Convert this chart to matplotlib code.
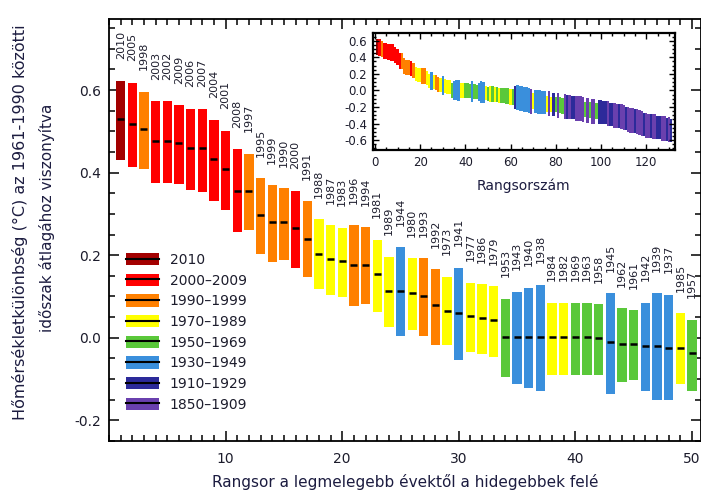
import matplotlib
matplotlib.use('Agg')
import matplotlib.pyplot as plt
from matplotlib.patches import Patch
from matplotlib.lines import Line2D
from matplotlib.legend_handler import HandlerTuple
from matplotlib.ticker import MultipleLocator, FixedLocator, FormatStrFormatter

plt.rcParams['font.family'] = ['DejaVu Sans']
plt.rcParams['axes.unicode_minus'] = False

# ---------------- data ----------------
periods = ['2010', '2000–2009', '1990–1999', '1970–1989',
           '1950–1969', '1930–1949', '1910–1929', '1850–1909']
period_colors = ['#a30000', '#ff0000', '#ff8000', '#ffff00',
                 '#5ac83a', '#3a8fdc', '#2c2a9a', '#6a40ae']

# 50 warmest years (main chart)
years_top50 = [2010, 2005, 1998, 2003, 2002, 2009, 2006, 2007, 2004, 2001,
               2008, 1997, 1995, 1999, 1990, 2000, 1991, 1988, 1987, 1983,
               1996, 1994, 1981, 1989, 1944, 1980, 1993, 1992, 1973, 1941,
               1977, 1986, 1979, 1953, 1943, 1940, 1938, 1984, 1982, 1969,
               1963, 1958, 1945, 1962, 1961, 1942, 1939, 1937, 1985, 1957]
center_top50 = [0.531, 0.517, 0.505, 0.476, 0.476, 0.472, 0.459, 0.459, 0.432, 0.409,
                0.355, 0.355, 0.297, 0.281, 0.281, 0.267, 0.239, 0.204, 0.191, 0.186,
                0.176, 0.176, 0.154, 0.114, 0.114, 0.109, 0.101, 0.079, 0.065, 0.061,
                0.053, 0.047, 0.043, 0.003, 0.003, 0.003, 0.003, 0.003, 0.003, 0.003,
                0.003, -0.001, -0.010, -0.015, -0.015, -0.020, -0.020, -0.024, -0.024, -0.036]
low_top50 = [0.430, 0.414, 0.408, 0.376, 0.376, 0.372, 0.357, 0.353, 0.331, 0.309,
             0.257, 0.261, 0.202, 0.184, 0.188, 0.170, 0.148, 0.117, 0.103, 0.099,
             0.078, 0.082, 0.063, 0.027, 0.005, 0.019, 0.005, -0.018, -0.018, -0.054,
             -0.035, -0.039, -0.046, -0.094, -0.112, -0.121, -0.129, -0.090, -0.090, -0.089,
             -0.089, -0.089, -0.135, -0.106, -0.102, -0.129, -0.151, -0.151, -0.112, -0.129]
high_top50 = [0.622, 0.618, 0.596, 0.573, 0.573, 0.563, 0.555, 0.555, 0.528, 0.501,
              0.456, 0.446, 0.387, 0.370, 0.362, 0.356, 0.331, 0.287, 0.272, 0.267,
              0.273, 0.268, 0.237, 0.196, 0.219, 0.192, 0.192, 0.166, 0.148, 0.170,
              0.133, 0.130, 0.125, 0.094, 0.111, 0.121, 0.129, 0.085, 0.085, 0.085,
              0.085, 0.081, 0.108, 0.072, 0.067, 0.085, 0.108, 0.104, 0.059, 0.044]

# ranks 51-131 (inset only): period code and estimated values
code_rest = ['Y', 'G', 'Y', 'G', 'Y', 'G', 'G', 'G', 'G', 'Y',
             'G', 'D', 'B', 'B', 'B', 'B', 'B', 'B', 'P', 'Y',
             'B', 'B', 'B', 'B', 'B', 'Y', 'P', 'Y', 'D', 'G',
             'P', 'G', 'G', 'P', 'D', 'P', 'D', 'D', 'P', 'P',
             'P', 'P', 'G', 'P', 'G', 'P', 'P', 'G', 'D', 'D',
             'D', 'D', 'P', 'D', 'D', 'P', 'P', 'D', 'P', 'P',
             'D', 'P', 'P', 'P', 'D', 'P', 'P', 'P', 'D', 'P',
             'P', 'D', 'P', 'P', 'D', 'D', 'P', 'P', 'D', 'P',
             'D']
center_rest = [-0.04, -0.04, -0.05, -0.05, -0.06, -0.06, -0.06, -0.07, -0.07, -0.08,
               -0.08, -0.09, -0.09, -0.10, -0.10, -0.11, -0.11, -0.12, -0.13, -0.13,
               -0.13, -0.14, -0.14, -0.15, -0.15, -0.16, -0.16, -0.17, -0.17, -0.17,
               -0.18, -0.18, -0.19, -0.19, -0.20, -0.20, -0.21, -0.21, -0.22, -0.22,
               -0.22, -0.23, -0.23, -0.24, -0.24, -0.25, -0.25, -0.25, -0.26, -0.26,
               -0.27, -0.27, -0.28, -0.29, -0.29, -0.30, -0.31, -0.31, -0.32, -0.33,
               -0.34, -0.35, -0.36, -0.36, -0.37, -0.38, -0.39, -0.40, -0.41, -0.42,
               -0.43, -0.43, -0.44, -0.44, -0.45, -0.45, -0.46, -0.46, -0.47, -0.47,
               -0.48]
half_rest = [0.095, 0.095, 0.095, 0.095, 0.095, 0.095, 0.095, 0.095, 0.095, 0.095,
             0.095, 0.14, 0.15, 0.15, 0.15, 0.15, 0.15, 0.15, 0.15, 0.095,
             0.14, 0.14, 0.14, 0.14, 0.14, 0.095, 0.15, 0.095, 0.14, 0.095,
             0.15, 0.095, 0.095, 0.15, 0.14, 0.15, 0.14, 0.14, 0.15, 0.15,
             0.15, 0.15, 0.095, 0.15, 0.095, 0.15, 0.15, 0.095, 0.14, 0.14,
             0.14, 0.14, 0.15, 0.14, 0.14, 0.15, 0.15, 0.14, 0.15, 0.15,
             0.14, 0.15, 0.15, 0.15, 0.14, 0.15, 0.15, 0.15, 0.14, 0.15,
             0.15, 0.14, 0.15, 0.15, 0.14, 0.14, 0.15, 0.15, 0.14, 0.15,
             0.14]

main_xticks = [10, 20, 30, 40, 50]

code_index = {'Y': 3, 'G': 4, 'B': 5, 'D': 6, 'P': 7}


def period_of(year):
    if year == 2010:
        return 0
    if year >= 2000:
        return 1
    if year >= 1990:
        return 2
    if year >= 1970:
        return 3
    if year >= 1950:
        return 4
    if year >= 1930:
        return 5
    if year >= 1910:
        return 6
    return 7


ranks50 = list(range(1, len(years_top50) + 1))
colors50 = [period_colors[period_of(y)] for y in years_top50]

# ---------------- figure ----------------
W, H = 701, 492
fig = plt.figure(figsize=(W / 100, H / 100), dpi=100)
ax = fig.add_axes([109 / W, 51 / H, 592 / W, 422 / H])

ax.bar(ranks50, [h - l for h, l in zip(high_top50, low_top50)], bottom=low_top50,
       width=0.8, color=colors50, linewidth=0, zorder=2)
ax.hlines(center_top50, [r - 0.3 for r in ranks50], [r + 0.3 for r in ranks50],
          colors='black', linewidth=1.8, zorder=3)

for r, yr, hi in zip(ranks50, years_top50, high_top50):
    ax.text(r, hi + 0.052, str(yr), rotation=90, ha='center', va='bottom',
            fontsize=8, color='#1e1e2e', zorder=4)

ax.set_xlim(0, 50.77)
ax.set_ylim(-0.25, 0.772)
ax.xaxis.set_major_locator(FixedLocator(main_xticks))
ax.xaxis.set_minor_locator(MultipleLocator(1))
ax.yaxis.set_major_locator(MultipleLocator(0.2))
ax.yaxis.set_minor_locator(MultipleLocator(0.05))
ax.yaxis.set_major_formatter(FormatStrFormatter('%.1f'))
ax.tick_params(which='both', direction='in', top=True, right=True,
               labelsize=10, labelcolor='#1c1c2c', width=1.1)
ax.tick_params(which='major', length=7, pad=6)
ax.tick_params(axis='x', which='major', pad=8)
ax.tick_params(which='minor', length=4)
for s in ax.spines.values():
    s.set_linewidth(1.3)
ax.set_xlabel('Rangsor a legmelegebb évektől a hidegebbek felé',
              fontsize=11, color='#1c1c40', labelpad=6)

fig.text(20 / W, 1 - 222 / H, 'Hőmérsékletkülönbség (°C) az 1961-1990 közötti',
         rotation=90, ha='center', va='center', fontsize=11.5, color='#1c1c40')
fig.text(47 / W, 1 - 218 / H, 'időszak átlagához viszonyítva',
         rotation=90, ha='center', va='center', fontsize=11, color='#1c1c40')

handles = [(Patch(facecolor=c, edgecolor='none'), Line2D([], [], color='black', lw=1.5))
           for c in period_colors]
ax.legend(handles, periods, handler_map={tuple: HandlerTuple(ndivide=1)},
          loc='upper left', bbox_to_anchor=(0.0287, 0.4455), frameon=False,
          fontsize=10, handlelength=2.4, handleheight=1.0, labelspacing=0.48,
          handletextpad=0.75, borderaxespad=0, borderpad=0, labelcolor='#1c1c2c')

# ---------------- inset ----------------
axin = fig.add_axes([372.7 / W, (H - 150) / H, 302.3 / W, 116.7 / H])
ranks_all = ranks50 + list(range(51, 51 + len(code_rest)))
low_all = low_top50 + [c - h for c, h in zip(center_rest, half_rest)]
high_all = high_top50 + [c + h for c, h in zip(center_rest, half_rest)]
colors_all = colors50 + [period_colors[code_index[c]] for c in code_rest]
axin.bar(ranks_all, [h - l for h, l in zip(high_all, low_all)], bottom=low_all,
         width=1.0, color=colors_all, linewidth=0)
axin.set_xlim(-1, 132.7)
axin.set_ylim(-0.72, 0.69)
axin.xaxis.set_major_locator(MultipleLocator(20))
axin.xaxis.set_minor_locator(MultipleLocator(5))
axin.yaxis.set_major_locator(MultipleLocator(0.2))
axin.yaxis.set_minor_locator(MultipleLocator(0.05))
axin.yaxis.set_major_formatter(FormatStrFormatter('%.1f'))
axin.tick_params(which='both', direction='in', top=True, right=True,
                 labelsize=8.5, labelcolor='#1c1c2c', width=1.0)
axin.tick_params(which='major', length=4, pad=4)
axin.tick_params(which='minor', length=2.5)
for s in axin.spines.values():
    s.set_linewidth(1.6)
axin.set_xlabel('Rangsorszám', fontsize=10, color='#1c1c40', labelpad=7)

fig.savefig('out.png', dpi=100)
